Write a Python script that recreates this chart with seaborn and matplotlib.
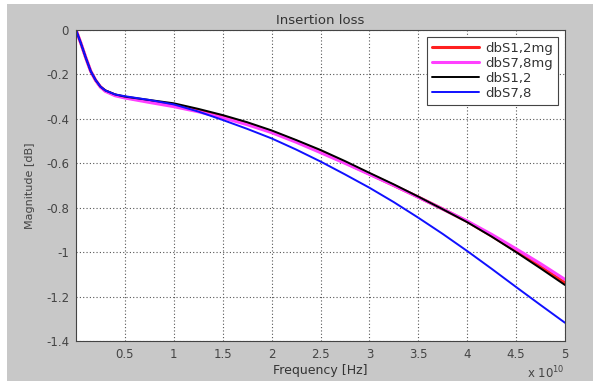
import numpy as np
import pandas as pd
import matplotlib
matplotlib.use("Agg")
import matplotlib.pyplot as plt
import seaborn as sns
from matplotlib.patches import Rectangle

# frequency in units of 1e10 Hz
freq = [0, 0.05, 0.1, 0.15, 0.2, 0.25, 0.3, 0.4, 0.5, 0.75, 1.0, 1.25, 1.5, 1.75,
        2.0, 2.25, 2.5, 2.75, 3.0, 3.25, 3.5, 3.75, 4.0, 4.25, 4.5, 4.75, 5.0]

s12mg = [0, -0.06, -0.125, -0.185, -0.226, -0.256, -0.274, -0.293, -0.303, -0.322, -0.34,
         -0.362, -0.39, -0.422, -0.458, -0.5, -0.548, -0.597, -0.648, -0.7, -0.752,
         -0.806, -0.862, -0.927, -0.995, -1.065, -1.138]
s78mg = [0, -0.06, -0.125, -0.185, -0.226, -0.257, -0.276, -0.296, -0.306, -0.326, -0.345,
         -0.368, -0.395, -0.426, -0.462, -0.505, -0.552, -0.6, -0.65, -0.7, -0.753,
         -0.806, -0.86, -0.92, -0.985, -1.052, -1.123]
s12 = [0, -0.06, -0.125, -0.185, -0.225, -0.255, -0.272, -0.29, -0.3, -0.315, -0.33,
       -0.355, -0.383, -0.415, -0.452, -0.495, -0.54, -0.59, -0.643, -0.695, -0.75,
       -0.807, -0.865, -0.93, -1.0, -1.073, -1.148]
s78 = [0, -0.06, -0.125, -0.185, -0.225, -0.255, -0.272, -0.29, -0.298, -0.315, -0.335,
       -0.367, -0.405, -0.445, -0.488, -0.538, -0.592, -0.65, -0.71, -0.775, -0.845,
       -0.918, -0.995, -1.075, -1.157, -1.238, -1.318]

series_names = ["dbS1,2mg", "dbS7,8mg", "dbS1,2", "dbS7,8"]
series_vals = [s12mg, s78mg, s12, s78]
colors = ["#ff2020", "#ff40ff", "#000000", "#1010ff"]
widths = [2.2, 2.2, 1.4, 1.4]

xticks = [0.5, 1, 1.5, 2, 2.5, 3, 3.5, 4, 4.5, 5]
xticklabels = ["0.5", "1", "1.5", "2", "2.5", "3", "3.5", "4", "4.5", "5"]
yticks = [0, -0.2, -0.4, -0.6, -0.8, -1.0, -1.2, -1.4]
yticklabels = ["0", "-0.2", "-0.4", "-0.6", "-0.8", "-1", "-1.2", "-1.4"]

df = pd.concat([pd.DataFrame({"freq": freq, "mag": v, "series": n})
                for n, v in zip(series_names, series_vals)], ignore_index=True)

sns.set_theme(style="white")
plt.rcParams['font.family'] = ['DejaVu Sans']

fig = plt.figure(figsize=(5.93, 3.81), dpi=100, facecolor="white")
fig.patches.append(Rectangle((7 / 593, 0), 1 - 7 / 593, 1 - 4 / 381, transform=fig.transFigure,
                             facecolor="#c8c8c8", edgecolor="none", zorder=-10))
ax = fig.add_axes([76 / 593, 40 / 381, (565 - 76) / 593, (341 - 30) / 381])
ax.set_facecolor("white")

for n, c, w in zip(series_names, colors, widths):
    sns.lineplot(data=df[df["series"] == n], x="freq", y="mag", color=c, linewidth=w,
                 label=n, ax=ax, estimator=None, sort=False)

ax.set_xlim(0, 5)
ax.set_ylim(-1.4, 0)
ax.set_xticks(xticks)
ax.set_xticklabels(xticklabels)
ax.set_yticks(yticks)
ax.set_yticklabels(yticklabels)
ax.grid(True, linestyle=(0, (1, 2)), color="#555555", linewidth=0.8)
ax.tick_params(direction="in", length=3, labelsize=8.5, colors="#444444", pad=5)
for s in ax.spines.values():
    s.set_color("#444444")
    s.set_linewidth(0.8)

ax.set_title("Insertion loss", fontsize=9.5, color="#333333", pad=4)
ax.set_xlabel("Frequency [Hz]", fontsize=9, color="#333333", labelpad=2)
ax.set_ylabel("Magnitude [dB]", fontsize=8, color="#444444", labelpad=8)
ax.text(1.0, -0.075, r"x 10$^{10}$", transform=ax.transAxes, ha="right", va="top",
        fontsize=8.5, color="#444444")

leg = ax.legend(loc="upper right", fontsize=9.5, frameon=True, fancybox=False,
                edgecolor="#444444", framealpha=1, handlelength=3.5, borderaxespad=0.5,
                labelspacing=0.15, borderpad=0.4, handletextpad=0.5)
leg.get_frame().set_linewidth(0.8)
for t in leg.get_texts():
    t.set_color("#333333")

fig.savefig("out.png", dpi=100, facecolor=fig.get_facecolor())
